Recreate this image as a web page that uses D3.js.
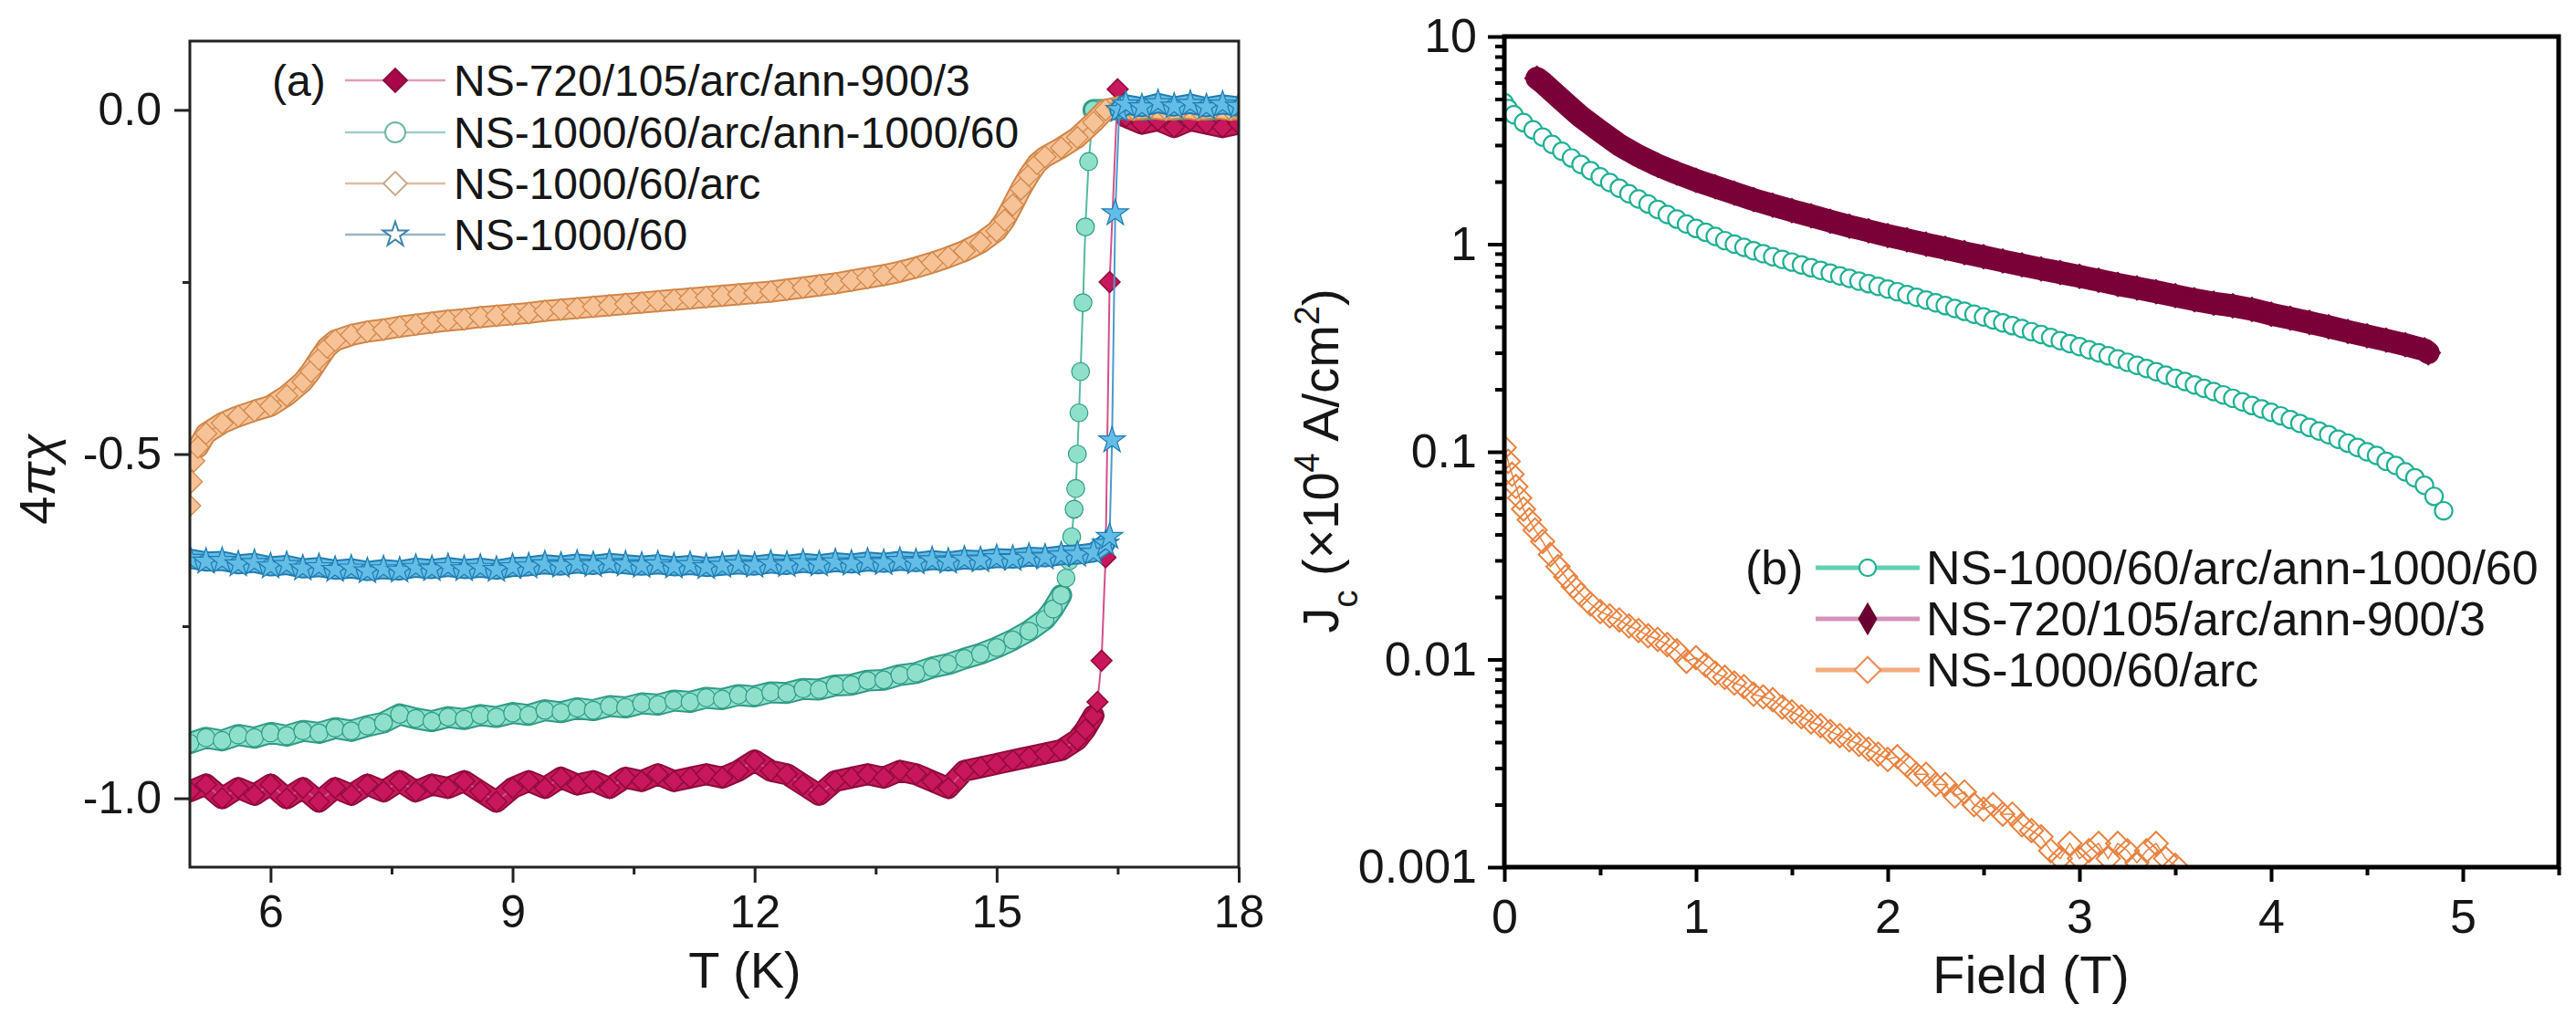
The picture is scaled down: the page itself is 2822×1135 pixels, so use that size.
<!DOCTYPE html>
<html>
<head>
<meta charset="utf-8">
<script src="https://cdn.jsdelivr.net/npm/d3@7"></script>
<style>
  body { margin: 0; background: #fff; }
  text { font-family: "Liberation Sans", Arial, sans-serif; fill: #161616; }
</style>
</head>
<body>
<div id="chart"></div>
<script>
var svgWidth = 2822;
var svgHeight = 1135;

// ---------- panel (a): 4πχ vs T ----------
var tempMaroon = [5.0,5.2,5.4,5.6,5.8,6.0,6.2,6.4,6.6,6.8,7.0,7.2,7.4,7.6,7.8,8.0,8.2,8.4,8.6,8.8,9.0,9.2,9.4,9.6,9.8,10.0,10.2,10.4,10.6,10.8,11.0,11.2,11.4,11.6,11.8,12.0,12.2,12.4,12.6,12.8,13.0,13.2,13.4,13.6,13.8,14.0,14.2,14.4,14.6,14.8,15.0,15.2,15.4,15.6,15.8,16.0,16.1,16.2,16.25,16.3,16.35,16.4,16.5,16.6,16.8,17.0,17.2,17.4,17.6,17.8,18.0];
var chiMaroon = [-0.99,-0.98,-1.0,-0.985,-0.995,-0.98,-1.0,-0.985,-1.005,-0.985,-0.995,-0.98,-0.99,-0.975,-0.99,-0.98,-0.985,-0.975,-0.99,-1.005,-0.985,-0.975,-0.985,-0.97,-0.98,-0.975,-0.985,-0.97,-0.975,-0.965,-0.975,-0.97,-0.965,-0.97,-0.96,-0.945,-0.96,-0.965,-0.98,-0.995,-0.975,-0.97,-0.965,-0.97,-0.96,-0.965,-0.975,-0.985,-0.96,-0.955,-0.95,-0.945,-0.94,-0.935,-0.93,-0.915,-0.9,-0.88,-0.86,-0.8,-0.65,-0.25,0.03,-0.01,-0.02,-0.015,-0.025,-0.015,-0.02,-0.025,-0.02];

var tempTeal = [5.0,5.2,5.4,5.6,5.8,6.0,6.2,6.4,6.6,6.8,7.0,7.2,7.4,7.6,7.8,8.0,8.2,8.4,8.6,8.8,9.0,9.2,9.4,9.6,9.8,10.0,10.2,10.4,10.6,10.8,11.0,11.2,11.4,11.6,11.8,12.0,12.2,12.4,12.6,12.8,13.0,13.2,13.4,13.6,13.8,14.0,14.2,14.4,14.6,14.8,15.0,15.2,15.4,15.6,15.7,15.8,15.86,15.9,15.93,15.96,15.98,16.0,16.02,16.04,16.07,16.1,16.14,16.2,16.4,16.6,16.8,17.0,17.2,17.4,17.6,17.8,18.0];
var chiTeal = [-0.92,-0.912,-0.916,-0.908,-0.912,-0.905,-0.909,-0.902,-0.905,-0.898,-0.902,-0.895,-0.89,-0.878,-0.884,-0.888,-0.882,-0.885,-0.879,-0.882,-0.876,-0.879,-0.872,-0.875,-0.869,-0.872,-0.866,-0.868,-0.862,-0.864,-0.858,-0.86,-0.854,-0.856,-0.85,-0.852,-0.846,-0.847,-0.841,-0.842,-0.836,-0.835,-0.829,-0.828,-0.821,-0.818,-0.81,-0.805,-0.797,-0.79,-0.781,-0.77,-0.757,-0.74,-0.725,-0.705,-0.68,-0.655,-0.62,-0.58,-0.55,-0.5,-0.44,-0.38,-0.28,-0.17,-0.075,0.0,0.0,0.002,0.0,0.002,0.0,0.002,0.0,0.002,0.0];

var tempOrange = [5.0,5.02,5.05,5.1,5.2,5.4,5.6,5.8,6.0,6.2,6.4,6.5,6.6,6.7,6.8,7.0,7.2,7.4,7.6,7.8,8.0,8.2,8.4,8.6,8.8,9.0,9.2,9.4,9.6,9.8,10.0,10.2,10.4,10.6,10.8,11.0,11.2,11.4,11.6,11.8,12.0,12.2,12.4,12.6,12.8,13.0,13.2,13.4,13.6,13.8,14.0,14.2,14.4,14.6,14.8,15.0,15.1,15.2,15.3,15.4,15.5,15.6,15.8,16.0,16.2,16.35,16.5,16.7,16.9,17.1,17.3,17.5,17.7,17.9,18.0];
var chiOrange = [-0.575,-0.54,-0.51,-0.49,-0.47,-0.455,-0.445,-0.437,-0.43,-0.415,-0.395,-0.38,-0.362,-0.345,-0.335,-0.327,-0.322,-0.319,-0.315,-0.312,-0.309,-0.306,-0.304,-0.301,-0.299,-0.297,-0.295,-0.292,-0.29,-0.288,-0.286,-0.284,-0.282,-0.28,-0.278,-0.276,-0.274,-0.272,-0.27,-0.268,-0.266,-0.264,-0.261,-0.258,-0.255,-0.252,-0.248,-0.244,-0.24,-0.235,-0.229,-0.222,-0.214,-0.205,-0.193,-0.176,-0.16,-0.138,-0.115,-0.095,-0.078,-0.068,-0.055,-0.04,-0.018,0.0,0.004,0.0,0.003,0.0,0.003,0.0,0.003,0.0,0.002];

var tempBlue = [5.0,5.2,5.4,5.6,5.8,6.0,6.2,6.4,6.6,6.8,7.0,7.2,7.4,7.6,7.8,8.0,8.2,8.4,8.6,8.8,9.0,9.2,9.4,9.6,9.8,10.0,10.2,10.4,10.6,10.8,11.0,11.2,11.4,11.6,11.8,12.0,12.2,12.4,12.6,12.8,13.0,13.2,13.4,13.6,13.8,14.0,14.2,14.4,14.6,14.8,15.0,15.2,15.4,15.6,15.8,16.0,16.2,16.35,16.4,16.43,16.47,16.52,16.6,16.8,17.0,17.2,17.4,17.6,17.8,18.0];
var chiBlue = [-0.652,-0.656,-0.655,-0.66,-0.658,-0.663,-0.661,-0.666,-0.664,-0.668,-0.666,-0.67,-0.667,-0.669,-0.665,-0.667,-0.664,-0.667,-0.665,-0.668,-0.664,-0.663,-0.66,-0.662,-0.659,-0.661,-0.658,-0.66,-0.662,-0.66,-0.663,-0.661,-0.664,-0.662,-0.66,-0.662,-0.659,-0.661,-0.658,-0.66,-0.657,-0.659,-0.656,-0.658,-0.655,-0.657,-0.654,-0.656,-0.653,-0.654,-0.651,-0.652,-0.649,-0.65,-0.647,-0.646,-0.643,-0.63,-0.62,-0.48,-0.15,0.0,0.008,0.004,0.01,0.005,0.009,0.004,0.008,0.005];

var legendA = ["NS-720/105/arc/ann-900/3", "NS-1000/60/arc/ann-1000/60", "NS-1000/60/arc", "NS-1000/60"];
var ticksAx = [6, 9, 12, 15, 18];
var minorAx = [7.5, 10.5, 13.5, 16.5];
var ticksAy = [-1.0, -0.5, 0.0];
var minorAy = [-0.75, -0.25];

// ---------- panel (b): Jc vs field ----------
var fieldMaroon = [0.17,0.2,0.3,0.4,0.5,0.6,0.7,0.8,0.9,1.0,1.1,1.2,1.3,1.4,1.5,1.6,1.7,1.8,1.9,2.0,2.1,2.2,2.3,2.4,2.5,2.6,2.7,2.8,2.9,3.0,3.1,3.2,3.3,3.4,3.5,3.6,3.7,3.8,3.9,4.0,4.1,4.2,4.3,4.4,4.5,4.6,4.7,4.8,4.82];
var jcMaroon = [6.3,6.0,4.95,4.1,3.5,3.0,2.66,2.4,2.2,2.03,1.89,1.76,1.64,1.54,1.45,1.37,1.29,1.22,1.16,1.1,1.05,1.0,0.955,0.91,0.87,0.83,0.795,0.76,0.73,0.7,0.67,0.64,0.615,0.59,0.565,0.54,0.52,0.505,0.485,0.46,0.44,0.42,0.4,0.38,0.362,0.345,0.328,0.31,0.30];

var fieldTeal = [0.0,0.02,0.05,0.1,0.15,0.2,0.25,0.3,0.35,0.4,0.45,0.5,0.55,0.6,0.65,0.7,0.75,0.8,0.85,0.9,0.95,1.0,1.05,1.1,1.15,1.2,1.25,1.3,1.35,1.4,1.45,1.5,1.55,1.6,1.65,1.7,1.75,1.8,1.85,1.9,1.95,2.0,2.05,2.1,2.15,2.2,2.25,2.3,2.35,2.4,2.45,2.5,2.55,2.6,2.65,2.7,2.75,2.8,2.85,2.9,2.95,3.0,3.05,3.1,3.15,3.2,3.25,3.3,3.35,3.4,3.45,3.5,3.55,3.6,3.65,3.7,3.75,3.8,3.85,3.9,3.95,4.0,4.05,4.1,4.15,4.2,4.25,4.3,4.35,4.4,4.45,4.5,4.55,4.6,4.65,4.7,4.75,4.8,4.85,4.9];
var jcTeal = [4.8,4.5,4.2,3.85,3.55,3.28,3.02,2.8,2.6,2.42,2.26,2.11,1.98,1.86,1.75,1.65,1.56,1.47,1.39,1.32,1.25,1.19,1.14,1.09,1.04,1.0,0.965,0.93,0.9,0.87,0.845,0.82,0.795,0.77,0.748,0.725,0.704,0.684,0.664,0.645,0.626,0.608,0.59,0.572,0.555,0.538,0.522,0.506,0.49,0.475,0.46,0.446,0.432,0.418,0.405,0.392,0.379,0.367,0.355,0.343,0.332,0.321,0.31,0.3,0.29,0.28,0.27,0.261,0.252,0.243,0.234,0.226,0.218,0.21,0.202,0.195,0.188,0.181,0.174,0.167,0.161,0.155,0.149,0.143,0.137,0.131,0.126,0.121,0.115,0.11,0.105,0.1,0.096,0.09,0.086,0.08,0.075,0.069,0.061,0.052];

var fieldOrange = [0.0,0.02,0.04,0.06,0.08,0.1,0.13,0.16,0.2,0.24,0.28,0.32,0.36,0.4,0.45,0.5,0.55,0.6,0.65,0.7,0.75,0.8,0.85,0.9,0.95,1.0,1.05,1.1,1.15,1.2,1.25,1.3,1.35,1.4,1.45,1.5,1.55,1.6,1.65,1.7,1.75,1.8,1.85,1.9,1.95,2.0,2.05,2.1,2.15,2.2,2.25,2.3,2.35,2.4,2.45,2.5,2.55,2.6,2.65,2.7,2.75,2.8,2.85,2.9,2.95,3.0,3.05,3.1,3.15,3.2,3.25,3.3,3.35,3.4,3.45,3.5];
var jcOrange = [0.105,0.09,0.078,0.068,0.06,0.053,0.047,0.042,0.037,0.032,0.028,0.025,0.0225,0.0205,0.0185,0.017,0.0162,0.0155,0.0145,0.0138,0.013,0.0125,0.0118,0.011,0.0098,0.0102,0.0094,0.0086,0.0082,0.0077,0.0074,0.0068,0.0066,0.0064,0.0059,0.0056,0.0053,0.005,0.0048,0.0045,0.0043,0.0041,0.0039,0.0037,0.0035,0.0033,0.0034,0.0031,0.0028,0.0028,0.0025,0.0025,0.0022,0.0023,0.002,0.0019,0.002,0.0018,0.0018,0.0016,0.0015,0.0014,0.0012,0.0011,0.0013,0.0011,0.0012,0.0013,0.0011,0.0013,0.0012,0.00105,0.0012,0.0013,0.0011,0.00102];

var legendB = ["NS-1000/60/arc/ann-1000/60", "NS-720/105/arc/ann-900/3", "NS-1000/60/arc"];
var ticksBx = [0, 1, 2, 3, 4, 5];
var minorBx = [0.5, 1.5, 2.5, 3.5, 4.5, 5.5];
var ticksBy = [0.001, 0.01, 0.1, 1, 10];
var tickLabelsBy = ["0.001", "0.01", "0.1", "1", "10"];

// ---------- layout ----------
var boxA = { left: 208, right: 1357, top: 45, bottom: 950 };
var boxB = { left: 1648, right: 2803, top: 40, bottom: 950 };

var svg = d3.select("#chart")
  .append("svg")
  .attr("width", svgWidth)
  .attr("height", svgHeight);

svg.append("rect").attr("width", svgWidth).attr("height", svgHeight).attr("fill", "#fff");

var defs = svg.append("defs");
defs.append("clipPath").attr("id", "clipA").append("rect")
  .attr("x", boxA.left).attr("y", boxA.top)
  .attr("width", boxA.right - boxA.left).attr("height", boxA.bottom - boxA.top);
defs.append("clipPath").attr("id", "clipB").append("rect")
  .attr("x", boxB.left).attr("y", boxB.top)
  .attr("width", boxB.right - boxB.left).attr("height", boxB.bottom - boxB.top);

var xA = d3.scaleLinear().domain([5, 18]).range([boxA.left, boxA.right]);
var yA = d3.scaleLinear().domain([-1.1, 0.1]).range([boxA.bottom, boxA.top]);
var xB = d3.scaleLinear().domain([0, 5.5]).range([boxB.left, boxB.right]);
var yB = d3.scaleLog().domain([0.001, 10]).range([boxB.bottom, boxB.top]);

function zip(xs, ys) {
  return xs.map(function(v, i) { return [v, ys[i]]; });
}

// draws one series: dense part as a band, thin connecting line, then markers
function drawSeries(g, pts, x, y, opt) {
  var line = d3.line().x(d => x(d[0])).y(d => y(d[1]));

  (opt.bands || []).forEach(function(r) {
    var part = pts.filter(d => d[0] >= r[0] && d[0] <= r[1]);
    g.append("path").datum(part).attr("d", line)
      .attr("fill", "none").attr("stroke", opt.stroke)
      .attr("stroke-width", opt.bandWidth + 4)
      .attr("stroke-linejoin", "round").attr("stroke-linecap", "round");
    g.append("path").datum(part).attr("d", line)
      .attr("fill", "none").attr("stroke", opt.fill)
      .attr("stroke-width", opt.bandWidth)
      .attr("stroke-linejoin", "round").attr("stroke-linecap", "round");
  });

  g.append("path")
    .datum(pts)
    .attr("d", line)
    .attr("fill", "none")
    .attr("stroke", opt.line)
    .attr("stroke-width", opt.lineWidth || 2);

  g.selectAll(null)
    .data(pts)
    .enter()
    .append("path")
    .attr("transform", d => `translate(${x(d[0])},${y(d[1])})`)
    .attr("d", d3.symbol().type(opt.shape).size(opt.size))
    .attr("fill", opt.fill)
    .attr("stroke", opt.stroke)
    .attr("stroke-width", opt.strokeWidth || 1.5);
}

function styleAxis(g, fontSize, width, color) {
  g.select(".domain").remove();
  g.selectAll(".tick line").attr("stroke", color).attr("stroke-width", width);
  g.selectAll(".tick text")
    .style("font-size", fontSize + "px")
    .style("font-family", "'Liberation Sans', Arial, sans-serif")
    .attr("fill", "#161616");
}

// ================= panel (a) =================
var plotA = svg.append("g").attr("clip-path", "url(#clipA)");

drawSeries(plotA, zip(tempMaroon, chiMaroon), xA, yA,
  { shape: d3.symbolDiamond2, size: 330, fill: "#c8175a", stroke: "#8e0b3d", line: "#d2508a",
    bands: [[5, 16.2], [16.6, 18]], bandWidth: 20 });
drawSeries(plotA, zip(tempTeal, chiTeal), xA, yA,
  { shape: d3.symbolCircle, size: 300, fill: "#8fe0cb", stroke: "#2f9b84", line: "#55b9a2",
    bands: [[5, 15.8], [16.2, 18]], bandWidth: 20, strokeWidth: 1.2 });
drawSeries(plotA, zip(tempOrange, chiOrange), xA, yA,
  { shape: d3.symbolDiamond2, size: 360, fill: "#f6c296", stroke: "#cf8548", line: "#dc9a66",
    bands: [[5.1, 18]], bandWidth: 20, strokeWidth: 1.2 });
drawSeries(plotA, zip(tempBlue, chiBlue), xA, yA,
  { shape: d3.symbolStar, size: 260, fill: "#63bde6", stroke: "#1f7cb0", line: "#4a9cc8",
    bands: [[5, 16.35], [16.52, 18]], bandWidth: 18, strokeWidth: 1.2 });

// axes (a)
var axisAx = svg.append("g")
  .attr("transform", `translate(0,${boxA.bottom})`)
  .call(d3.axisBottom(xA).tickValues(ticksAx).tickSize(17).tickPadding(13).tickFormat(d3.format("d")));
styleAxis(axisAx, 50, 3, "#222");
var minorAxG = svg.append("g")
  .attr("transform", `translate(0,${boxA.bottom})`)
  .call(d3.axisBottom(xA).tickValues(minorAx).tickSize(8).tickFormat(""));
styleAxis(minorAxG, 50, 3, "#222");

var axisAy = svg.append("g")
  .attr("transform", `translate(${boxA.left},0)`)
  .call(d3.axisLeft(yA).tickValues(ticksAy).tickSize(17).tickPadding(14).tickFormat(d => d.toFixed(1)));
styleAxis(axisAy, 50, 3, "#222");
var minorAyG = svg.append("g")
  .attr("transform", `translate(${boxA.left},0)`)
  .call(d3.axisLeft(yA).tickValues(minorAy).tickSize(8).tickFormat(""));
styleAxis(minorAyG, 50, 3, "#222");

svg.append("rect")
  .attr("x", boxA.left).attr("y", boxA.top)
  .attr("width", boxA.right - boxA.left).attr("height", boxA.bottom - boxA.top)
  .attr("fill", "none").attr("stroke", "#222").attr("stroke-width", 3);

svg.append("text")
  .attr("x", 816).attr("y", 1082)
  .attr("text-anchor", "middle")
  .style("font-size", "56px")
  .text("T (K)");

var yTitleA = svg.append("text")
  .attr("transform", "translate(60,525) rotate(-90)")
  .attr("text-anchor", "middle")
  .style("font-size", "56px");
yTitleA.append("tspan").text("4");
yTitleA.append("tspan").style("font-style", "italic").text("πχ");

// legend (a)
var legA = svg.append("g");
legA.append("text").attr("x", 298).attr("y", 105).style("font-size", "48px").text("(a)");
var legAStyles = [
  { shape: d3.symbolDiamond2, size: 420, fill: "#a8084a", stroke: "#8a0a3a", line: "#e29bb8" },
  { shape: d3.symbolCircle, size: 380, fill: "#fff", stroke: "#72b4a6", line: "#9ccfc4" },
  { shape: d3.symbolDiamond2, size: 420, fill: "#fff", stroke: "#c9a88c", line: "#dcbfa6" },
  { shape: d3.symbolStar, size: 230, fill: "#fff", stroke: "#3f86ab", line: "#9db5c3" }
];
var legARows = [88, 145, 201, 257];
legendA.forEach(function(label, i) {
  var st = legAStyles[i];
  var cy = legARows[i];
  legA.append("line").attr("x1", 378).attr("x2", 488).attr("y1", cy).attr("y2", cy)
    .attr("stroke", st.line).attr("stroke-width", 2.5);
  legA.append("path").attr("transform", `translate(433,${cy})`)
    .attr("d", d3.symbol().type(st.shape).size(st.size))
    .attr("fill", st.fill).attr("stroke", st.stroke).attr("stroke-width", 2);
  legA.append("text").attr("x", 497).attr("y", cy + 17).style("font-size", "48px").text(label);
});

// ================= panel (b) =================
var plotB = svg.append("g").attr("clip-path", "url(#clipB)");

drawSeries(plotB, zip(fieldOrange, jcOrange), xB, yB,
  { shape: d3.symbolDiamond2, size: 420, fill: "none", stroke: "#e8823f", line: "#e8823f", lineWidth: 1.5, strokeWidth: 2 });
drawSeries(plotB, zip(fieldTeal, jcTeal), xB, yB,
  { shape: d3.symbolCircle, size: 290, fill: "#fff", stroke: "#1fb092", line: "#1fb092", lineWidth: 1.5, strokeWidth: 2.2 });
drawSeries(plotB, zip(fieldMaroon, jcMaroon), xB, yB,
  { shape: d3.symbolDiamond2, size: 440, fill: "#7a0038", stroke: "#7a0038", line: "#7a0038", lineWidth: 1.5,
    bands: [[0.17, 4.82]], bandWidth: 21 });

// axes (b)
var axisBx = svg.append("g")
  .attr("transform", `translate(0,${boxB.bottom})`)
  .call(d3.axisBottom(xB).tickValues(ticksBx).tickSize(16).tickPadding(19).tickFormat(d3.format("d")));
styleAxis(axisBx, 52, 4, "#000");
var minorBxG = svg.append("g")
  .attr("transform", `translate(0,${boxB.bottom})`)
  .call(d3.axisBottom(xB).tickValues(minorBx).tickSize(9).tickFormat(""));
styleAxis(minorBxG, 52, 4, "#000");

var axisBy = svg.append("g")
  .attr("transform", `translate(${boxB.left},0)`)
  .call(d3.axisLeft(yB).tickValues(ticksBy).tickSize(18).tickPadding(12)
    .tickFormat((d, i) => tickLabelsBy[i]));
styleAxis(axisBy, 52, 4, "#000");

var minorBy = [];
ticksBy.slice(0, -1).forEach(function(dec) {
  for (var k = 2; k <= 9; k++) minorBy.push(dec * k);
});
var minorByG = svg.append("g")
  .attr("transform", `translate(${boxB.left},0)`)
  .call(d3.axisLeft(yB).tickValues(minorBy).tickSize(10).tickFormat(""));
styleAxis(minorByG, 52, 4, "#000");

svg.append("rect")
  .attr("x", boxB.left).attr("y", boxB.top)
  .attr("width", boxB.right - boxB.left).attr("height", boxB.bottom - boxB.top)
  .attr("fill", "none").attr("stroke", "#000").attr("stroke-width", 5);

svg.append("text")
  .attr("x", 2225).attr("y", 1088)
  .attr("text-anchor", "middle")
  .style("font-size", "58px")
  .text("Field (T)");

var yTitleB = svg.append("text")
  .attr("transform", "translate(1466,505) rotate(-90)")
  .attr("text-anchor", "middle")
  .style("font-size", "56px");
yTitleB.append("tspan").text("J");
yTitleB.append("tspan").attr("baseline-shift", "sub").style("font-size", "38px").text("c");
yTitleB.append("tspan").text(" (\u00d710");
yTitleB.append("tspan").attr("baseline-shift", "super").style("font-size", "38px").text("4");
yTitleB.append("tspan").text(" A/cm");
yTitleB.append("tspan").attr("baseline-shift", "super").style("font-size", "38px").text("2");
yTitleB.append("tspan").text(")");

// legend (b)
var legB = svg.append("g");
legB.append("text").attr("x", 1912).attr("y", 640).style("font-size", "52px").text("(b)");
var legBStyles = [
  { shape: d3.symbolCircle, size: 260, fill: "#fff", stroke: "#1fb092", line: "#5fd0b2" },
  { shape: d3.symbolDiamond, size: 300, fill: "#6a0030", stroke: "#6a0030", line: "#d493b9" },
  { shape: d3.symbolDiamond2, size: 520, fill: "#fff", stroke: "#ea8e58", line: "#f3aa7c" }
];
var legBRows = [622, 678, 734];
legendB.forEach(function(label, i) {
  var st = legBStyles[i];
  var cy = legBRows[i];
  legB.append("line").attr("x1", 1989).attr("x2", 2103).attr("y1", cy).attr("y2", cy)
    .attr("stroke", st.line).attr("stroke-width", 5);
  legB.append("path").attr("transform", `translate(2046,${cy})`)
    .attr("d", d3.symbol().type(st.shape).size(st.size))
    .attr("fill", st.fill).attr("stroke", st.stroke).attr("stroke-width", 2.2);
  legB.append("text").attr("x", 2110).attr("y", cy + 18).style("font-size", "52px").text(label);
});
</script>
</body>
</html>
